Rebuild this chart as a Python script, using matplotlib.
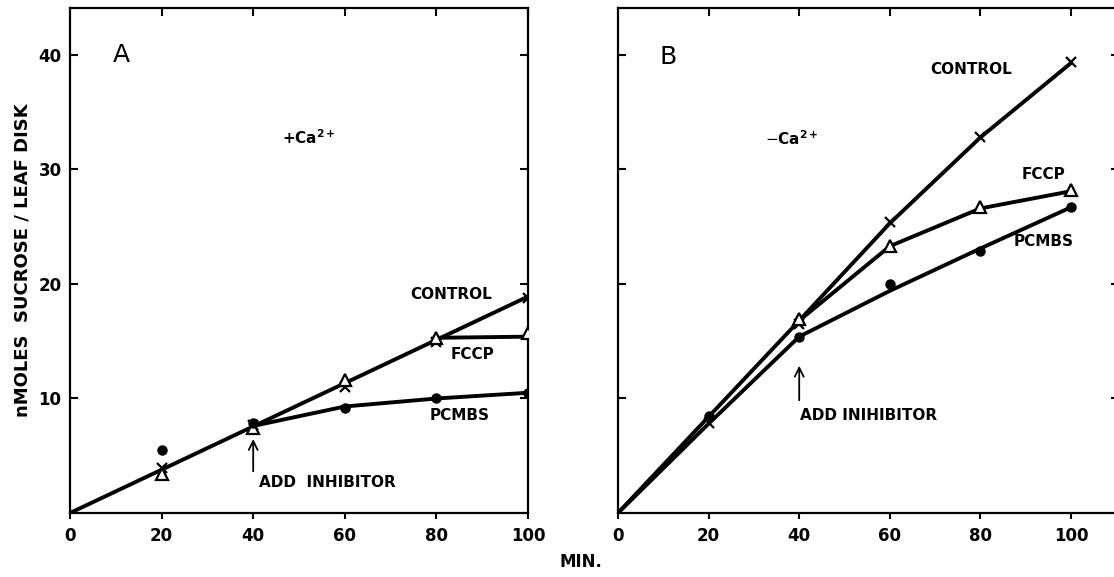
import matplotlib
matplotlib.use("Agg")
import numpy as np
import matplotlib.pyplot as plt

# --- datos ---
time_min = [20, 40, 60, 80, 100]

# panel A (+Ca2+)
a_control = [3.9, 7.7, 11.0, 14.9, 18.8]
a_fccp = [3.4, 7.4, 11.6, 15.3, 15.7]
a_pcmbs = [5.5, 7.9, 9.2, 10.0, 10.5]

# panel B (-Ca2+)
b_control = [7.9, 16.5, 25.4, 32.8, 39.4]
b_fccp = [np.nan, 16.9, 23.3, 26.7, 28.2]
b_pcmbs = [8.5, 15.4, 20.0, 22.9, 26.7]

# lineas trazadas a mano en el original
a_line_control_x = [0, 100]
a_line_control_y = [0, 18.9]
a_line_fccp_x = [80, 100]
a_line_fccp_y = [15.3, 15.4]
a_line_pcmbs_x = [40, 60, 80, 100]
a_line_pcmbs_y = [7.6, 9.3, 10.0, 10.5]

b_line_control_x = [0, 20, 40, 60, 80, 100]
b_line_control_y = [0, 8.4, 16.8, 25.3, 32.8, 39.3]
b_line_fccp_x = [40, 60, 80, 100]
b_line_fccp_y = [16.8, 23.3, 26.6, 28.1]
b_line_pcmbs_x = [0, 20, 40, 60, 80, 100]
b_line_pcmbs_y = [0, 7.8, 15.4, 19.4, 23.1, 26.7]

x_ticks = [0, 20, 40, 60, 80, 100]
y_ticks = [10, 20, 30, 40]

LW = 2.8
BOLD = dict(fontsize=11, fontweight='bold', family='DejaVu Sans')

fig = plt.figure(figsize=(11.14, 5.77), dpi=100)
axA = fig.add_axes([70/1114, 1-513/577, 458/1114, 505/577])
axB = fig.add_axes([618/1114, 1-513/577, 500.6/1114, 505/577])


def style_axes(ax, xmax, show_ylabels):
    ax.set_xlim(0, xmax)
    ax.set_ylim(0, 44.1)
    ax.set_xticks(x_ticks)
    ax.set_xticklabels([str(t) for t in x_ticks], fontsize=12, fontweight='bold')
    ax.set_yticks(y_ticks)
    if show_ylabels:
        ax.set_yticklabels([str(t) for t in y_ticks], fontsize=12, fontweight='bold')
    else:
        ax.set_yticklabels([])
    ax.tick_params(axis='y', which='both', direction='in', length=6, width=1.5,
                   left=True, right=True, pad=6)
    ax.tick_params(axis='x', which='both', direction='out', length=4, width=1.5, pad=6)
    for s in ax.spines.values():
        s.set_linewidth(1.6)
    # marcas superiores hacia adentro
    sec = ax.secondary_xaxis('top')
    sec.set_xticks([20, 40, 60, 80, 100])
    sec.tick_params(direction='in', length=6, width=1.5, labeltop=False)
    sec.spines['top'].set_visible(False)


def plot_panel(ax, ctrl, fccp, pcmbs, lines):
    for lx, ly in lines:
        ax.plot(lx, ly, color='black', lw=LW, solid_capstyle='round', zorder=2)
    ax.plot(time_min, ctrl, ls='none', marker='x', ms=7, mew=1.6, color='black', zorder=3)
    ax.plot(time_min, fccp, ls='none', marker='^', ms=8, mew=1.6, mfc='white',
            mec='black', zorder=4)
    ax.plot(time_min, pcmbs, ls='none', marker='o', ms=6.5, color='black', zorder=5)


# --- PANEL A ---
style_axes(axA, 100, True)
plot_panel(axA, a_control, a_fccp, a_pcmbs,
           [(a_line_control_x, a_line_control_y),
            (a_line_fccp_x, a_line_fccp_y),
            (a_line_pcmbs_x, a_line_pcmbs_y)])
axA.text(11.2, 40.0, 'A', fontsize=18, ha='center', va='center')
axA.text(46.2, 32.8, '+Ca$^{\\mathbf{2+}}$', fontsize=11, fontweight='bold', ha='left', va='center')
axA.text(83.2, 19.1, 'CONTROL', ha='center', va='center', **BOLD)
axA.text(87.9, 13.8, 'FCCP', ha='center', va='center', **BOLD)
axA.text(85.1, 8.5, 'PCMBS', ha='center', va='center', **BOLD)
axA.text(41.3, 2.7, 'ADD  INHIBITOR', ha='left', va='center', **BOLD)
axA.annotate('', xy=(40, 6.7), xytext=(40, 3.4),
             arrowprops=dict(arrowstyle='->', lw=1.3, color='black', mutation_scale=16))
axA.set_ylabel('nMOLES  SUCROSE / LEAF DISK', fontsize=13, fontweight='bold', labelpad=5)

# --- PANEL B ---
style_axes(axB, 110.5, False)
axB.spines['right'].set_visible(False)
plot_panel(axB, b_control, b_fccp, b_pcmbs,
           [(b_line_control_x, b_line_control_y),
            (b_line_fccp_x, b_line_fccp_y),
            (b_line_pcmbs_x, b_line_pcmbs_y)])
axB.text(11.0, 39.8, 'B', fontsize=18, ha='center', va='center')
axB.text(32.5, 32.7, '$-$Ca$^{\\mathbf{2+}}$', fontsize=11, fontweight='bold', ha='left', va='center')
axB.text(78.0, 38.7, 'CONTROL', ha='center', va='center', **BOLD)
axB.text(93.9, 29.6, 'FCCP', ha='center', va='center', **BOLD)
axB.text(93.9, 23.7, 'PCMBS', ha='center', va='center', **BOLD)
axB.text(40.2, 8.5, 'ADD INIHIBITOR', ha='left', va='center', **BOLD)
axB.annotate('', xy=(40, 13.1), xytext=(40, 9.6),
             arrowprops=dict(arrowstyle='->', lw=1.3, color='black', mutation_scale=16))

fig.text(581/1114, 1-562/577, 'MIN.', fontsize=12, fontweight='bold', ha='center', va='center')

fig.savefig('out.png', dpi=100)
